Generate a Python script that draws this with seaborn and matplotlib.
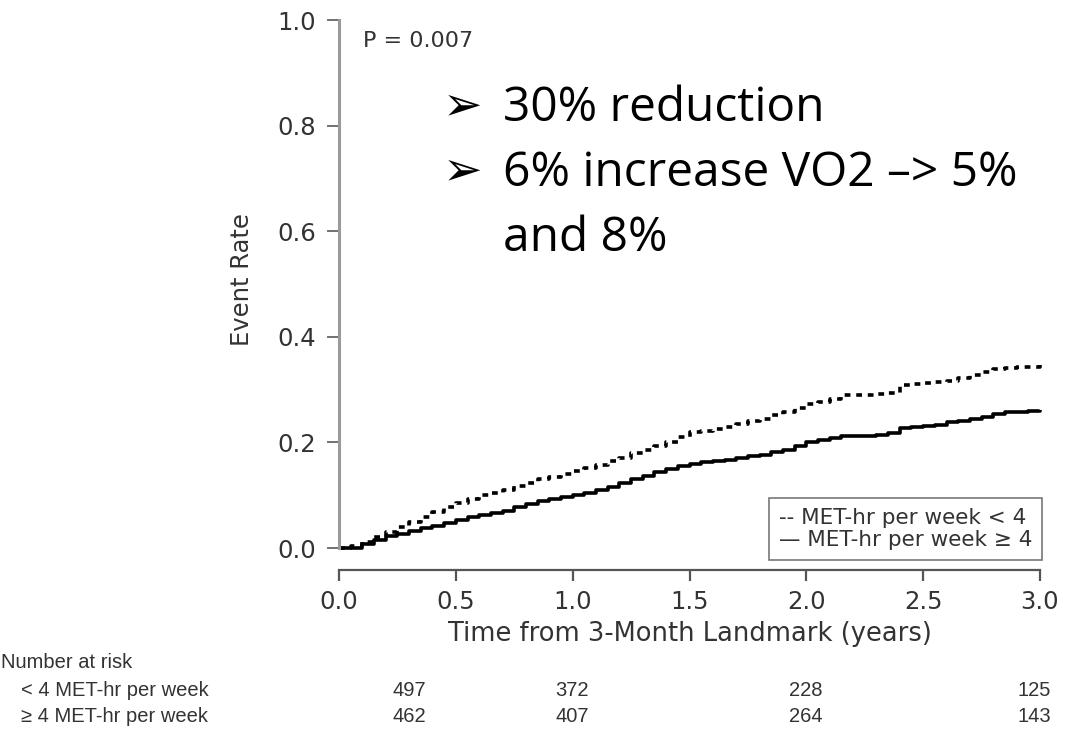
import numpy as np
import pandas as pd
import matplotlib
matplotlib.use("Agg")
import matplotlib.pyplot as plt
import seaborn as sns
from matplotlib.lines import Line2D

# ---------------- data ----------------
time_years = [0.0, 0.05, 0.1, 0.15, 0.2, 0.25, 0.3, 0.35, 0.4, 0.45, 0.5, 0.55, 0.6, 0.65,
              0.7, 0.75, 0.8, 0.85, 0.9, 0.95, 1.0, 1.05, 1.1, 1.15, 1.2, 1.25, 1.3, 1.35,
              1.4, 1.45, 1.5, 1.55, 1.6, 1.65, 1.7, 1.75, 1.8, 1.85, 1.9, 1.95, 2.0, 2.05,
              2.1, 2.15, 2.2, 2.25, 2.3, 2.35, 2.4, 2.45, 2.5, 2.55, 2.6, 2.65, 2.7, 2.75,
              2.8, 2.85, 2.9, 2.95, 3.0]
rate_low = [0.0, 0.004, 0.012, 0.020, 0.030, 0.040, 0.050, 0.059, 0.068, 0.077, 0.085,
            0.093, 0.100, 0.104, 0.110, 0.117, 0.124, 0.130, 0.135, 0.141, 0.146, 0.152,
            0.158, 0.164, 0.171, 0.180, 0.186, 0.193, 0.201, 0.211, 0.219, 0.222, 0.225,
            0.229, 0.235, 0.241, 0.245, 0.251, 0.257, 0.265, 0.273, 0.277, 0.283, 0.289,
            0.290, 0.290, 0.291, 0.294, 0.308, 0.311, 0.312, 0.315, 0.317, 0.322, 0.328,
            0.334, 0.339, 0.341, 0.342, 0.343, 0.348]
rate_high = [0.0, 0.0, 0.008, 0.016, 0.022, 0.027, 0.032, 0.037, 0.041, 0.047, 0.053,
             0.058, 0.063, 0.067, 0.071, 0.077, 0.083, 0.089, 0.093, 0.097, 0.100, 0.104,
             0.109, 0.115, 0.124, 0.131, 0.136, 0.144, 0.150, 0.156, 0.160, 0.162, 0.164,
             0.167, 0.170, 0.174, 0.177, 0.181, 0.186, 0.193, 0.200, 0.205, 0.208, 0.212,
             0.212, 0.213, 0.214, 0.217, 0.227, 0.230, 0.231, 0.233, 0.238, 0.241, 0.244,
             0.249, 0.254, 0.257, 0.258, 0.259, 0.262]
group_names = ["MET-hr per week < 4", "MET-hr per week \u2265 4"]
legend_labels = ["-- MET-hr per week < 4", "\u2014 MET-hr per week \u2265 4"]

x_ticks = [0.0, 0.5, 1.0, 1.5, 2.0, 2.5, 3.0]
y_ticks = [0.0, 0.2, 0.4, 0.6, 0.8, 1.0]

risk_rows = ["< 4 MET-hr per week", "\u2265 4 MET-hr per week"]
risk_low = [497, 372, 228, 125]
risk_high = [462, 407, 264, 143]

p_text = "P = 0.007"
bullets = ["30% reduction", "6% increase VO2 \u2013> 5%", "and 8%"]

# ---------------- figure ----------------
sns.set_theme(style="white")
plt.rcParams["font.family"] = ["DejaVu Sans"]

W, H = 1066, 732
fig = plt.figure(figsize=(W / 100, H / 100), dpi=100)
fig.patch.set_facecolor("white")

def fx(px):
    return px / W

def fy(py):
    return 1 - py / H

ax = fig.add_axes([fx(339), fy(548), (1040 - 339) / W, 528 / H])

df = pd.DataFrame({
    "time": time_years * 2,
    "rate": rate_low + rate_high,
    "group": [group_names[0]] * len(time_years) + [group_names[1]] * len(time_years),
})

sns.lineplot(data=df, x="time", y="rate", style="group", style_order=group_names,
             dashes={group_names[0]: (1.6, 1.6), group_names[1]: ""},
             color="black", drawstyle="steps-post", estimator=None, sort=False,
             linewidth=2.6, legend=False, ax=ax)
for ln in ax.get_lines():
    ln.set_solid_capstyle("butt")
    ln.set_dash_capstyle("butt")
    ln.set_clip_on(False)

ax.set_xlim(0, 3)
ax.set_ylim(0, 1)
ax.set_xticks(x_ticks)
ax.set_yticks(y_ticks)
ax.set_xticklabels([f"{v:.1f}" for v in x_ticks])
ax.set_yticklabels([f"{v:.1f}" for v in y_ticks])

for s in ["top", "right"]:
    ax.spines[s].set_visible(False)
ax.spines["left"].set_bounds(0, 1)
ax.spines["left"].set_color("#9a9a9a")
ax.spines["left"].set_linewidth(2.2)
ax.spines["bottom"].set_bounds(0, 3)
ax.spines["bottom"].set_position(("outward", 16))
ax.spines["bottom"].set_color("#555555")
ax.spines["bottom"].set_linewidth(1.6)

ax.tick_params(axis="y", direction="out", length=8.5, width=1.3, color="#666666",
               labelsize=17.5, labelcolor="#333333", pad=8, left=True)
ax.tick_params(axis="x", direction="out", length=8, width=1.6, color="#555555",
               labelsize=17.5, labelcolor="#333333", pad=6.5, bottom=True)

ax.set_ylabel("Event Rate", fontsize=17.5, color="#333333")
ax.yaxis.set_label_coords((254 - 339) / 701, (548 - 280) / 528)
ax.set_xlabel("Time from 3-Month Landmark (years)", fontsize=18.5, color="#333333")
ax.xaxis.set_label_coords(0.5, (548 - 621) / 528)
ax.grid(False)

# legend (text-only, as in the original)
handles = [Line2D([], [], linestyle="none") for _ in legend_labels]
leg = ax.legend(handles, legend_labels, loc="lower right",
                bbox_to_anchor=(1.003, -0.023), handlelength=0, handletextpad=0,
                fontsize=15.5, frameon=True, fancybox=False, borderpad=0.45,
                labelspacing=0.12, borderaxespad=0)
leg.get_frame().set_edgecolor("#555555")
leg.get_frame().set_linewidth(1.2)
for t in leg.get_texts():
    t.set_color("#333333")

# P-value
fig.text(fx(363), fy(41), p_text, fontsize=16, color="#333333", va="center", ha="left")

# bullet text
baselines = [121, 186, 251]
for i, (txt, bl) in enumerate(zip(bullets, baselines)):
    fig.text(fx(503), fy(bl), txt, fontsize=34.5, family=["Open Sans", "DejaVu Sans"],
             color="black", va="baseline", ha="left")
    if i < 2:
        fig.text(fx(443), fy(bl - 2), "\u27a2", fontsize=34, family=["DejaVu Sans"],
                 color="black", va="baseline", ha="left")

# number at risk table
table_font = ["Liberation Sans"]
fig.text(fx(1), fy(662), "Number at risk", fontsize=14.5, family=table_font,
         color="#333333", va="center", ha="left")
row_y = [690, 716]
num_x = [409, 572, 806, 1034]
for label, vals, yy in zip(risk_rows, [risk_low, risk_high], row_y):
    fig.text(fx(21), fy(yy), label, fontsize=14.5, family=table_font,
             color="#333333", va="center", ha="left")
    for v, xx in zip(vals, num_x):
        fig.text(fx(xx), fy(yy), str(v), fontsize=14.5, family=table_font,
                 color="#333333", va="center", ha="center")

fig.savefig("out.png", dpi=100, facecolor="white")
